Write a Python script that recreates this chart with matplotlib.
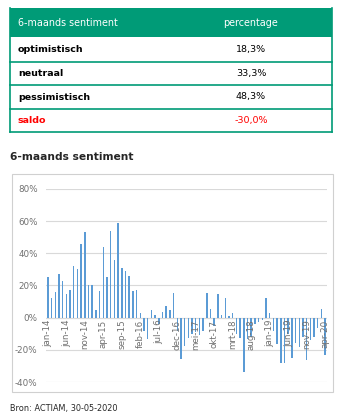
import numpy as np
import matplotlib
matplotlib.use("Agg")
import matplotlib.pyplot as plt
from matplotlib.patches import Rectangle

# table data
row_labels = ["optimistisch", "neutraal", "pessimistisch", "saldo"]
row_values = ["18,3%", "33,3%", "48,3%", "-30,0%"]
header = ["6-maands sentiment", "percentage"]

# monthly sentiment saldo (%), jan-14 .. apr-20
saldo = [25, 12, 16, 27, 23, 15, 17.5, 32, 30, 46,
         53, 20.5, 20.5, 5, 16.5, 44, 25, 54, 36, 59,
         31, 29, 26, 16.5, 17.5, 3, -8, -13, 5, 1.8,
         -4, 3.5, 7, 5, 15.5, -8, -26, -17.5, -12.5, -10,
         -9, -10.5, -8, 15.5, 5.6, -5, 14.7, 1.8, 12, 1.2,
         2.6, -10, -12.8, -33.5, -13, -12, -4, -3, -1.5, 12.3,
         2.7, -8, -16.5, -28, -28, -10, -25, -16, -18.5, -12,
         -26.5, -14, -12.3, -6.5, 5.4, -23.5]
tick_labels = ["jan-14", "jun-14", "nov-14", "apr-15", "sep-15", "feb-16",
               "jul-16", "dec-16", "mei-17", "okt-17", "mrt-18", "aug-18",
               "jan-19", "jun-19", "nov-19", "apr-20"]
y_ticks = [-40, -20, 0, 20, 40, 60, 80]

W, H = 348, 420
TEAL = "#009B77"
BLUE = "#5B9BD5"
GRID = "#D9D9D9"
GRAY = "#707070"

fig = plt.figure(figsize=(W / 100, H / 100), dpi=100)

# overlay in pixel coordinates
bg = fig.add_axes([0, 0, 1, 1])
bg.set_xlim(0, W)
bg.set_ylim(H, 0)
bg.axis("off")

# table
tx0, tx1 = 10, 332
row_y = [8, 37, 62, 85, 109, 132]
bg.add_patch(Rectangle((tx0, row_y[0]), tx1 - tx0, row_y[1] - row_y[0], color=TEAL, lw=0))
bg.text(18, (row_y[0] + row_y[1]) / 2, header[0], color="white", fontsize=6.9,
        va="center", ha="left")
bg.text(251, (row_y[0] + row_y[1]) / 2, header[1], color="white", fontsize=6.9,
        va="center", ha="center")
for i, (lab, val) in enumerate(zip(row_labels, row_values)):
    y0, y1 = row_y[i + 1], row_y[i + 2]
    col = "#FF0000" if lab == "saldo" else "black"
    bg.text(18, (y0 + y1) / 2, lab, color=col, fontsize=6.8, fontweight="bold",
            va="center", ha="left")
    bg.text(251, (y0 + y1) / 2, val, color=col, fontsize=6.8, va="center", ha="center")
    bg.plot([tx0, tx1], [y1, y1], color=TEAL, lw=1.2)
bg.plot([tx0, tx0], [row_y[0], row_y[-1]], color=TEAL, lw=1.2)
bg.plot([tx1, tx1], [row_y[0], row_y[-1]], color=TEAL, lw=1.2)

# title and source
bg.text(10, 157, "6-maands sentiment", fontsize=7.7, fontweight="bold",
        color="#262626", va="center", ha="left")
bg.text(10, 408, "Bron: ACTIAM, 30-05-2020", fontsize=5.9, color="#262626",
        va="center", ha="left")

# chart border
bg.add_patch(Rectangle((12, 174), 321, 218, fill=False, ec="#D0D0D0", lw=0.8))

# bar chart
ax = fig.add_axes([46 / W, 1 - 382 / H, (327 - 46) / W, (382 - 189) / H])
x = np.arange(len(saldo))
ax.bar(x, saldo, width=0.4, color=BLUE, zorder=2)
ax.set_xlim(-0.5, len(saldo) - 0.5)
ax.set_ylim(-40, 80)
ax.set_yticks(y_ticks)
ax.set_yticklabels([f"{v}%" for v in y_ticks], color=GRAY, fontsize=6.3)
ax.tick_params(axis="y", length=0, pad=6)
ax.set_xticks([])
ax.grid(axis="y", color=GRID, lw=0.8, zorder=0)
for s in ax.spines.values():
    s.set_visible(False)
ax.axhline(0, color=GRID, lw=0.8, zorder=1)
for k, lab in enumerate(tick_labels):
    ax.text(k * 5, -1.2, lab, rotation=90, ha="center", va="top", fontsize=6.3,
            color=GRAY, zorder=3)

fig.savefig("out.png", dpi=100)
